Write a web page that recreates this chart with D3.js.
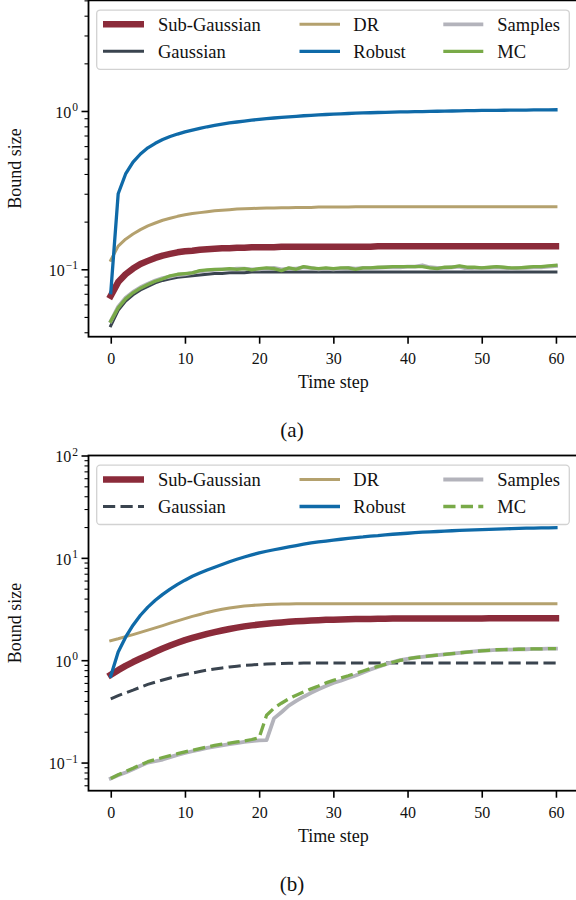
<!DOCTYPE html>
<html><head><meta charset="utf-8">
<script src="https://cdn.jsdelivr.net/npm/d3@7"></script>
<style>
body{margin:0;background:#fff}
svg{display:block}
</style>
</head><body>
<svg id="c" width="576" height="900"></svg>
<script>
// ---------------- DATA ----------------
const timeSteps = d3.range(0, 61);
const seriesNames = ["Sub-Gaussian", "Gaussian", "DR", "Robust", "Samples", "MC"];
const xTickValues = [0, 10, 20, 30, 40, 50, 60];

// Panel (a)
const aSubGaussian = [0.068,0.083,0.093,0.101,0.108,0.113,0.118,0.122,0.125,0.128,0.130,0.131,0.133,0.134,0.135,0.136,0.136,0.137,0.137,0.138,0.138,
  0.138,0.138,0.139,0.139,0.139,0.139,0.139,0.139,0.139,0.139,0.139,0.139,0.139,0.139,0.139,0.140,0.140,0.140,0.140,0.140,
  0.140,0.140,0.140,0.140,0.140,0.140,0.140,0.140,0.140,0.140,0.140,0.140,0.140,0.140,0.140,0.140,0.140,0.140,0.140,0.140];
const aGaussian = [0.044,0.055,0.063,0.069,0.074,0.078,0.082,0.085,0.087,0.089,0.090,0.091,0.092,0.093,0.094,0.094,0.095,0.095,0.095,0.096,0.096,
  0.096,0.096,0.096,0.096,0.096,0.096,0.096,0.096,0.096,0.096,0.096,0.096,0.096,0.096,0.096,0.096,0.096,0.096,0.096,0.096,
  0.096,0.096,0.096,0.096,0.096,0.096,0.096,0.096,0.096,0.096,0.096,0.096,0.096,0.096,0.096,0.096,0.096,0.096,0.096,0.096];
const aDR = [0.114,0.140,0.155,0.167,0.178,0.188,0.196,0.204,0.210,0.216,0.221,0.225,0.228,0.231,0.234,0.236,0.238,0.240,0.241,0.242,0.243,
  0.244,0.244,0.245,0.245,0.246,0.246,0.246,0.247,0.247,0.247,0.247,0.247,0.248,0.248,0.248,0.248,0.248,0.248,0.248,0.248,
  0.248,0.248,0.248,0.248,0.248,0.248,0.248,0.248,0.248,0.248,0.248,0.248,0.248,0.248,0.248,0.248,0.248,0.248,0.248,0.248];
const aRobust = [0.071,0.300,0.400,0.475,0.535,0.585,0.625,0.660,0.690,0.715,0.738,0.758,0.777,0.795,0.811,0.826,0.840,0.852,0.864,0.875,0.885,
  0.894,0.903,0.911,0.919,0.926,0.933,0.939,0.945,0.950,0.955,0.960,0.964,0.968,0.972,0.975,0.978,0.981,0.984,0.986,0.988,
  0.990,0.992,0.994,0.996,0.998,1.000,1.002,1.004,1.006,1.008,1.009,1.010,1.011,1.012,1.013,1.014,1.015,1.016,1.017,1.018];
const aSamples = [0.047,0.058,0.066,0.072,0.077,0.081,0.085,0.088,0.090,0.092,0.093,0.095,0.097,0.098,0.099,0.100,0.100,0.101,0.101,0.100,0.100,
  0.101,0.102,0.100,0.101,0.101,0.103,0.102,0.100,0.101,0.100,0.101,0.102,0.101,0.102,0.102,0.102,0.103,0.103,0.103,0.104,
  0.104,0.106,0.103,0.102,0.102,0.103,0.104,0.101,0.102,0.102,0.102,0.103,0.102,0.101,0.102,0.102,0.103,0.103,0.104,0.105];
const aMC = [0.047,0.057,0.065,0.071,0.076,0.080,0.084,0.087,0.091,0.093,0.094,0.095,0.098,0.099,0.100,0.100,0.101,0.100,0.101,0.099,0.101,
  0.102,0.101,0.098,0.102,0.100,0.104,0.102,0.101,0.102,0.101,0.102,0.102,0.100,0.102,0.102,0.103,0.103,0.104,0.104,0.104,
  0.104,0.104,0.102,0.101,0.103,0.103,0.105,0.103,0.103,0.102,0.103,0.104,0.103,0.102,0.102,0.103,0.104,0.104,0.105,0.106];

// Panel (b)
const bSubGaussian = [0.72,0.80,0.88,0.96,1.04,1.12,1.21,1.30,1.39,1.48,1.57,1.65,1.73,1.81,1.88,1.95,2.02,2.08,2.14,2.19,2.23,
  2.27,2.31,2.34,2.37,2.40,2.42,2.44,2.46,2.48,2.49,2.50,2.51,2.52,2.53,2.53,2.54,2.54,2.55,2.55,2.55,
  2.56,2.56,2.56,2.56,2.56,2.56,2.56,2.56,2.56,2.56,2.57,2.57,2.57,2.57,2.57,2.57,2.57,2.57,2.57,2.57];
const bGaussian = [0.42,0.45,0.48,0.51,0.545,0.58,0.61,0.64,0.67,0.70,0.725,0.75,0.775,0.80,0.82,0.84,0.86,0.875,0.89,0.90,0.91,
  0.918,0.925,0.929,0.932,0.935,0.937,0.939,0.94,0.94,0.94,0.94,0.94,0.94,0.94,0.94,0.94,0.94,0.94,0.94,0.94,
  0.94,0.94,0.94,0.94,0.94,0.94,0.94,0.94,0.94,0.94,0.94,0.94,0.94,0.94,0.94,0.94,0.94,0.94,0.94,0.94];
const bDR = [1.55,1.62,1.70,1.78,1.87,1.97,2.07,2.18,2.30,2.42,2.55,2.68,2.80,2.93,3.04,3.14,3.23,3.31,3.38,3.43,3.47,
  3.50,3.52,3.54,3.55,3.56,3.56,3.57,3.57,3.57,3.57,3.57,3.57,3.57,3.57,3.57,3.57,3.57,3.57,3.57,3.57,
  3.57,3.57,3.57,3.57,3.57,3.57,3.57,3.57,3.57,3.57,3.57,3.57,3.57,3.57,3.57,3.57,3.57,3.57,3.57,3.57];
const bRobust = [0.70,1.20,1.68,2.20,2.75,3.30,3.85,4.40,4.95,5.50,6.05,6.60,7.10,7.60,8.10,8.60,9.15,9.70,10.2,10.7,11.2,
  11.6,12.0,12.4,12.8,13.2,13.6,14.0,14.3,14.6,14.9,15.2,15.5,15.8,16.0,16.3,16.5,16.8,17.0,17.2,17.4,
  17.6,17.8,17.95,18.1,18.25,18.4,18.55,18.7,18.8,18.9,19.0,19.1,19.2,19.3,19.4,19.5,19.55,19.6,19.65,19.7];
const bSamples = [0.070,0.075,0.080,0.086,0.093,0.100,0.103,0.107,0.113,0.119,0.124,0.129,0.134,0.139,0.143,0.147,0.151,0.155,0.159,0.162,0.165,
  0.166,0.27,0.31,0.36,0.40,0.44,0.48,0.52,0.56,0.60,0.63,0.67,0.71,0.76,0.81,0.86,0.91,0.96,1.00,1.03,
  1.06,1.08,1.10,1.12,1.14,1.16,1.18,1.20,1.22,1.24,1.25,1.26,1.27,1.27,1.28,1.28,1.29,1.29,1.30,1.30];
const bMC = [0.070,0.076,0.082,0.088,0.095,0.102,0.107,0.112,0.117,0.122,0.127,0.132,0.137,0.142,0.147,0.151,0.155,0.159,0.163,0.168,0.175,
  0.29,0.34,0.38,0.42,0.455,0.49,0.525,0.56,0.60,0.635,0.67,0.705,0.745,0.785,0.83,0.87,0.91,0.955,0.995,1.03,
  1.06,1.08,1.10,1.12,1.14,1.16,1.18,1.20,1.22,1.235,1.25,1.265,1.27,1.275,1.28,1.285,1.29,1.29,1.30,1.30];

// ---------------- STYLE ----------------
const FONT = '"Liberation Serif", "Times New Roman", serif';
const colors = {
  "Sub-Gaussian": "#8b2b3a", "Gaussian": "#3a444f", "DR": "#b4a16e",
  "Robust": "#0f6aa8", "Samples": "#b3b3bb", "MC": "#79aa48"
};
const widths = {"Sub-Gaussian": 6.5, "Gaussian": 3, "DR": 3, "Robust": 3.3, "Samples": 3.8, "MC": 3.3};

const svg = d3.select("#c");
const X0 = 88.5, X1 = 578.2;
const x = d3.scaleLinear().domain([-3, 63]).range([X0, X1]);

function txt(sel, size) {
  return sel.style("font-family", FONT).style("font-size", size + "px").style("fill", "#111");
}

function supLabel(sel, exp) {
  sel.text(null);
  sel.append("tspan").text("10");
  sel.append("tspan").style("font-size", "11.5px").attr("dy", "-0.6em").attr("dx", "1")
     .text(exp < 0 ? "\u2212" + (-exp) : String(exp));
}

function drawPanel(cfg) {
  const g = svg.append("g");
  const y = d3.scaleLog().domain(cfg.ydom).range([cfg.bottom, cfg.top]);
  const clipId = "clip" + cfg.id;
  svg.append("defs").append("clipPath").attr("id", clipId)
    .append("rect").attr("x", X0).attr("y", cfg.top).attr("width", X1 - X0).attr("height", cfg.bottom - cfg.top);

  const line = d3.line().x((d, i) => x(timeSteps[i])).y(d => y(d));
  const lg = g.append("g").attr("clip-path", `url(#${clipId})`);
  cfg.series.forEach((s, k) => {
    const name = seriesNames[k];
    lg.append("path").datum(s).attr("d", line)
      .attr("fill", "none").attr("stroke", colors[name]).attr("stroke-width", widths[name])
      .attr("stroke-linejoin", "round")
      .attr("stroke-linecap", cfg.dashed.includes(name) ? "butt" : "square")
      .attr("stroke-dasharray", cfg.dashed.includes(name) ? "12.2,5.3" : null);
  });

  // x axis
  const xa = g.append("g").attr("transform", `translate(0,${cfg.bottom})`)
    .call(d3.axisBottom(x).tickValues(xTickValues).tickSize(7).tickPadding(9).tickSizeOuter(0));
  xa.select(".domain").remove();
  xa.selectAll(".tick line").attr("stroke", "#000").attr("stroke-width", 1.6);
  txt(xa.selectAll(".tick text"), 16);

  // y axis majors
  const lo = Math.ceil(Math.log10(cfg.ydom[0])), hi = Math.floor(Math.log10(cfg.ydom[1]) + 1e-9);
  const majors = d3.range(lo, hi + 1).map(e => Math.pow(10, e));
  const minors = [];
  for (let e = lo - 1; e <= hi; e++) for (let j = 2; j <= 9; j++) {
    const v = j * Math.pow(10, e);
    if (v >= cfg.ydom[0] && v <= cfg.ydom[1] * 1.0001) minors.push(v);
  }
  const ya = g.append("g").attr("transform", `translate(${X0},0)`)
    .call(d3.axisLeft(y).tickValues(majors).tickSize(7).tickPadding(3.5).tickSizeOuter(0));
  ya.select(".domain").remove();
  ya.selectAll(".tick line").attr("stroke", "#000").attr("stroke-width", 1.6);
  txt(ya.selectAll(".tick text"), 16)
    .attr("dy", "0.4em").each(function(d) { supLabel(d3.select(this), Math.round(Math.log10(d))); });
  const ym = g.append("g").attr("transform", `translate(${X0},0)`)
    .call(d3.axisLeft(y).tickValues(minors).tickSize(4).tickFormat(() => "").tickSizeOuter(0));
  ym.select(".domain").remove();
  ym.selectAll(".tick line").attr("stroke", "#000").attr("stroke-width", 1.1);

  // frame
  g.append("rect").attr("x", X0).attr("y", cfg.top).attr("width", X1 - X0).attr("height", cfg.bottom - cfg.top)
    .attr("fill", "none").attr("stroke", "#000").attr("stroke-width", 1.8);

  // labels
  txt(g.append("text"), 18).attr("x", (X0 + X1) / 2).attr("y", cfg.bottom + 51).attr("text-anchor", "middle")
    .text("Time step");
  txt(g.append("text"), 18).attr("transform", `translate(21,${(cfg.top + cfg.bottom) / 2}) rotate(-90)`)
    .attr("text-anchor", "middle").text("Bound size");
  txt(g.append("text"), 21).attr("x", 292).attr("y", cfg.captionY).attr("text-anchor", "middle")
    .text(cfg.caption);

  // legend
  const L = g.append("g").attr("transform", `translate(0,${cfg.top + 9.7})`);
  L.append("rect").attr("x", 96.7).attr("y", 0).attr("width", 472.6).attr("height", 59.3).attr("rx", 3.5)
    .attr("fill", "#fff").attr("fill-opacity", 0.8).attr("stroke", "#d2d2d2").attr("stroke-width", 1.3);
  const colX = [[103, 144, 158], [299.5, 340, 353.3], [443.3, 483.3, 497.3]];
  const rowY = [14.3, 41.3];
  seriesNames.forEach((name, k) => {
    const c = Math.floor(k / 2), r = k % 2;
    const isD = cfg.dashed.includes(name);
    L.append("line").attr("x1", colX[c][0]).attr("x2", colX[c][1]).attr("y1", rowY[r]).attr("y2", rowY[r])
      .attr("stroke", colors[name]).attr("stroke-width", widths[name])
      .attr("stroke-linecap", "butt")
      .attr("stroke-dasharray", isD ? "12.2,5.3" : null);
    txt(L.append("text"), 18.5).attr("x", colX[c][2]).attr("y", rowY[r] + 6.8).text(name);
  });
}

drawPanel({
  id: "a", top: 0.35, bottom: 336.7, ydom: [0.0375, 5],
  series: [aSubGaussian, aGaussian, aDR, aRobust, aSamples, aMC],
  dashed: [], caption: "(a)", captionY: 437
});
drawPanel({
  id: "b", top: 455.5, bottom: 790.7, ydom: [0.0531, 100],
  series: [bSubGaussian, bGaussian, bDR, bRobust, bSamples, bMC],
  dashed: ["Gaussian", "MC"], caption: "(b)", captionY: 891
});
</script>
</body></html>
